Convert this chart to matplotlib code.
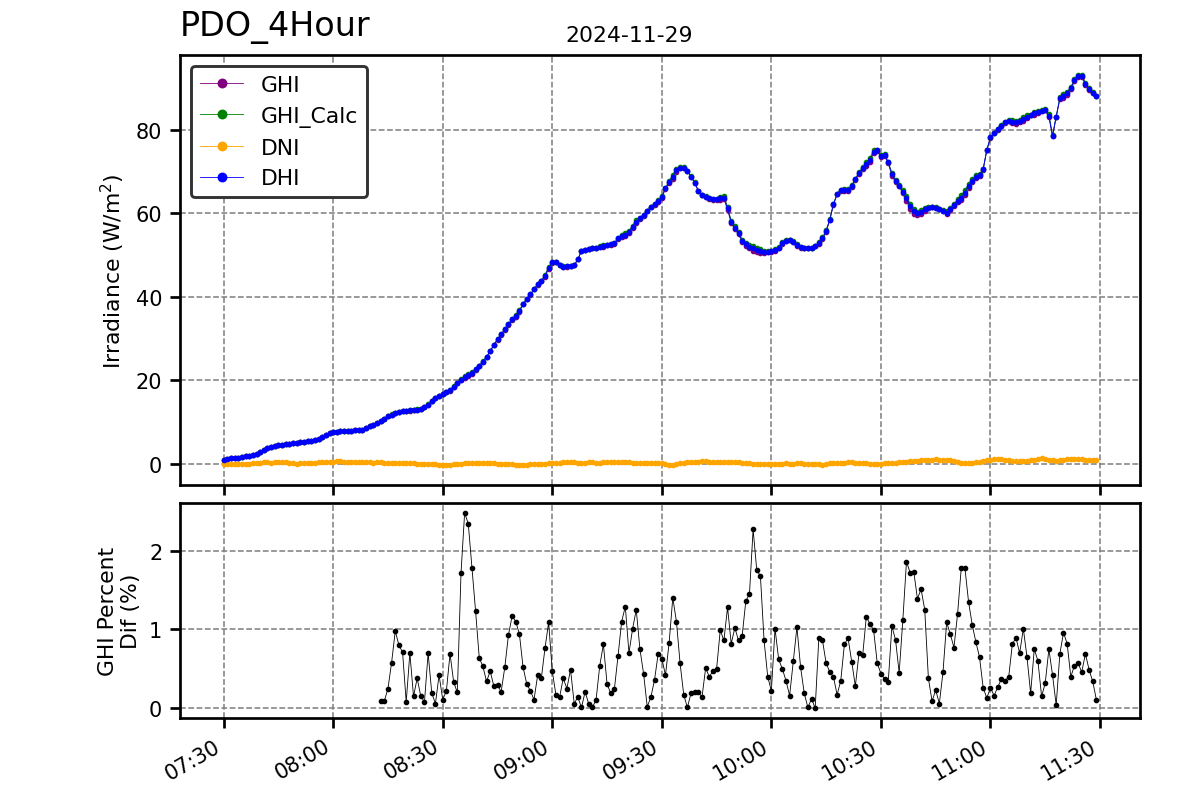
import numpy as np
import pandas as pd
import matplotlib
matplotlib.use("Agg")
import matplotlib.pyplot as plt
import matplotlib.dates as mdates

nan = np.nan
title_text = "PDO_4Hour"
date_text = "2024-11-29"
start_time = "2024-11-29 07:30"

# DHI (W/m2), one value per minute from 07:30
dhi = [
    1.0, 1.2, 1.3, 1.4, 1.5, 1.6, 1.8, 1.9, 2.1, 2.4,
    2.8, 3.3, 3.7, 4.0, 4.2, 4.4, 4.5, 4.7, 4.8, 5.0,
    5.1, 5.2, 5.3, 5.4, 5.5, 5.7, 6.0, 6.5, 7.0, 7.4,
    7.6, 7.7, 7.8, 7.8, 7.9, 7.9, 8.0, 8.1, 8.2, 8.6,
    9.0, 9.4, 9.8, 10.3, 10.8, 11.4, 11.8, 12.2, 12.4, 12.6,
    12.7, 12.8, 12.9, 13.0, 13.1, 13.5, 14.2, 15.0, 15.8, 16.3,
    16.7, 17.2, 17.6, 18.5, 19.4, 20.2, 20.7, 21.2, 21.8, 22.6,
    23.4, 24.5, 25.6, 27.0, 28.5, 29.8, 31.0, 32.2, 33.4, 34.6,
    35.4, 36.6, 38.3, 39.5, 40.6, 41.8, 43.0, 43.8, 45.0, 47.0,
    48.3, 48.4, 47.6, 47.2, 47.3, 47.4, 47.6, 49.0, 51.0, 51.2,
    51.4, 51.6, 51.8, 52.0, 52.2, 52.4, 52.6, 52.8, 54.0, 54.6,
    54.9, 55.6, 56.8, 58.0, 58.8, 59.6, 60.6, 61.6, 62.2, 63.0,
    64.0, 66.0, 67.5, 68.8, 70.3, 71.0, 71.0, 70.2, 68.8, 67.4,
    65.4, 64.4, 64.0, 63.6, 63.4, 63.4, 63.6, 63.8, 61.2, 58.0,
    56.6, 55.2, 53.5, 52.6, 52.0, 51.6, 51.3, 51.0, 50.8, 50.8,
    50.9, 51.2, 51.8, 52.9, 53.5, 53.6, 53.2, 52.4, 51.9, 51.7,
    51.7, 51.8, 52.1, 52.8, 54.0, 55.8, 58.5, 62.2, 64.6, 65.6,
    65.7, 65.6, 66.6, 68.2, 69.6, 70.8, 71.8, 72.8, 74.8, 75.1,
    73.8, 74.0, 72.2, 69.4, 67.8, 66.6, 65.2, 63.6, 61.7, 60.5,
    60.0, 60.4, 61.0, 61.4, 61.6, 61.4, 61.0, 60.6, 60.2, 61.0,
    62.0, 63.0, 63.8, 65.0, 66.6, 67.8, 68.8, 69.2, 70.6, 75.2,
    78.2, 79.3, 80.2, 81.0, 81.8, 82.2, 82.0, 81.8, 82.2, 82.6,
    83.2, 83.6, 84.0, 84.4, 84.6, 84.8, 83.4, 78.6, 83.2, 87.6,
    88.1, 88.8, 90.0, 91.9, 93.0, 93.0, 91.0, 89.8, 88.9, 88.1,
]

# DNI (W/m2)
dni = [
    -0.1, -0.1, 0.0, -0.1, 0.0, -0.1, 0.0, 0.0, 0.1, 0.2,
    0.3, 0.4, 0.4, 0.3, 0.4, 0.4, 0.4, 0.4, 0.3, 0.1,
    0.0, 0.1, 0.3, 0.3, 0.2, 0.3, 0.4, 0.4, 0.4, 0.5,
    0.5, 0.6, 0.7, 0.5, 0.4, 0.4, 0.4, 0.4, 0.4, 0.4,
    0.4, 0.3, 0.4, 0.4, 0.3, 0.2, 0.2, 0.2, 0.2, 0.1,
    0.1, 0.1, 0.1, 0.0, 0.0, 0.0, 0.0, 0.0, -0.1, -0.2,
    -0.2, -0.3, -0.2, -0.1, -0.1, 0.0, 0.1, 0.2, 0.3, 0.3,
    0.2, 0.3, 0.3, 0.2, 0.1, 0.0, 0.0, 0.0, 0.0, -0.1,
    -0.2, -0.2, -0.2, -0.2, -0.1, -0.1, -0.1, -0.1, 0.0, 0.1,
    0.2, 0.2, 0.3, 0.4, 0.5, 0.5, 0.4, 0.3, 0.2, 0.3,
    0.4, 0.4, 0.3, 0.3, 0.4, 0.5, 0.5, 0.5, 0.5, 0.5,
    0.4, 0.4, 0.3, 0.3, 0.2, 0.3, 0.2, 0.2, 0.3, 0.2,
    0.1, 0.0, -0.2, -0.4, -0.1, 0.2, 0.3, 0.4, 0.4, 0.4,
    0.5, 0.6, 0.6, 0.5, 0.4, 0.4, 0.4, 0.4, 0.4, 0.4,
    0.4, 0.4, 0.3, 0.2, 0.1, 0.0, 0.0, 0.0, 0.0, 0.0,
    0.0, 0.0, 0.0, 0.0, 0.1, 0.0, 0.0, 0.1, 0.1, 0.0,
    0.0, 0.0, 0.0, -0.1, -0.2, 0.0, 0.1, 0.2, 0.2, 0.3,
    0.3, 0.4, 0.4, 0.3, 0.2, 0.2, 0.1, 0.0, 0.0, -0.1,
    0.0, 0.1, 0.2, 0.2, 0.3, 0.4, 0.5, 0.5, 0.6, 0.6,
    0.7, 0.8, 0.9, 0.9, 1.0, 1.1, 0.9, 0.8, 0.8, 0.8,
    0.6, 0.4, 0.2, 0.2, 0.2, 0.3, 0.4, 0.5, 0.7, 0.9,
    1.0, 1.1, 1.1, 1.1, 1.0, 0.8, 0.7, 0.7, 0.7, 0.7,
    0.7, 0.8, 0.9, 1.1, 1.3, 1.2, 1.0, 0.9, 0.6, 0.9,
    1.0, 1.1, 1.1, 1.1, 1.2, 1.1, 1.0, 1.0, 1.0, 0.9,
]

# GHI percent difference (%)
pct_dif = [nan] * 43 + [
    0.09, 0.09, 0.25, 0.58, 0.98, 0.80, 0.71,
    0.08, 0.70, 0.15, 0.38, 0.15, 0.08, 0.70, 0.19, 0.06, 0.42,
    0.11, 0.22, 0.69, 0.33, 0.20, 1.71, 2.48, 2.34, 1.78, 1.23,
    0.64, 0.53, 0.34, 0.47, 0.28, 0.29, 0.21, 0.52, 0.93, 1.17,
    1.10, 0.94, 0.52, 0.31, 0.22, 0.11, 0.42, 0.38, 0.76, 1.09,
    0.47, 0.17, 0.14, 0.38, 0.25, 0.49, 0.06, 0.14, 0.01, 0.21,
    0.05, 0.01, 0.11, 0.54, 0.81, 0.31, 0.19, 0.24, 0.66, 1.10,
    1.29, 0.70, 1.01, 1.25, 0.75, 0.44, 0.02, 0.14, 0.36, 0.69,
    0.63, 0.42, 0.83, 1.40, 1.10, 0.57, 0.17, 0.01, 0.19, 0.20,
    0.21, 0.14, 0.51, 0.40, 0.47, 0.50, 0.99, 0.86, 1.28, 0.82,
    1.02, 0.86, 0.92, 1.36, 1.45, 2.27, 1.75, 1.68, 0.86, 0.40,
    0.22, 1.01, 0.62, 0.50, 0.35, 0.16, 0.60, 1.03, 0.52, 0.19,
    0.01, 0.12, 0.00, 0.89, 0.86, 0.57, 0.46, 0.40, 0.17, 0.35,
    0.81, 0.89, 0.59, 0.28, 0.70, 0.67, 1.16, 1.07, 0.99, 0.57,
    0.44, 0.37, 0.33, 1.04, 0.87, 0.45, 1.12, 1.86, 1.72, 1.73,
    1.39, 1.51, 1.25, 0.38, 0.09, 0.23, 0.06, 0.46, 1.09, 0.94,
    0.77, 1.20, 1.78, 1.78, 1.35, 1.06, 0.84, 0.65, 0.26, 0.13,
    0.26, 0.16, 0.27, 0.37, 0.35, 0.40, 0.82, 0.89, 0.70, 1.01,
    0.65, 0.19, 0.75, 0.60, 0.15, 0.32, 0.75, 0.42, 0.04, 0.69,
    0.96, 0.82, 0.40, 0.54, 0.57, 0.46, 0.69, 0.49, 0.34, 0.11,
]

dhi_a = np.array(dhi, dtype=float)
dni_a = np.array(dni, dtype=float)
pct_a = np.array(pct_dif, dtype=float)
n = min(len(dhi_a), len(dni_a), len(pct_a))
times = pd.date_range(start_time, periods=n, freq="1min")
dhi_a, dni_a, pct_a = dhi_a[:n], dni_a[:n], pct_a[:n]
half = np.nan_to_num(pct_a) / 200.0
ghi_a = dhi_a * (1 - half)
ghi_calc_a = dhi_a * (1 + half)

fig = plt.figure(figsize=(8, 5.333), dpi=150)
ax1 = fig.add_axes([0.15, 0.3925, 0.80, 0.5375])
ax2 = fig.add_axes([0.15, 0.10125, 0.80, 0.26875], sharex=ax1)

lw = 0.4
ms = 1.7
ax1.plot(times, ghi_a, color="purple", marker="o", lw=lw, ms=ms, label="GHI")
ax1.plot(times, ghi_calc_a, color="green", marker="o", lw=lw, ms=ms, label="GHI_Calc")
ax1.plot(times, dni_a, color="orange", marker="o", lw=lw, ms=ms, label="DNI")
ax1.plot(times, dhi_a, color="blue", marker="o", lw=lw, ms=ms, label="DHI")

ax2.plot(times, pct_a, color="black", marker="o", lw=lw, ms=ms)

for ax in (ax1, ax2):
    ax.grid(True, linestyle="--", color="gray", linewidth=0.75)
    for s in ax.spines.values():
        s.set_linewidth(1.3)
    ax.tick_params(width=1.3, length=5, labelsize=10)

ax1.set_yticks([0, 20, 40, 60, 80])
ax2.set_yticks([0, 1, 2])
ax1.set_ylabel("Irradiance (W/m$^2$)", fontsize=10.5)
ax2.set_ylabel("GHI Percent\nDif (%)", fontsize=10.5)

ax2.xaxis.set_major_locator(mdates.MinuteLocator(byminute=[0, 30]))
ax2.xaxis.set_major_formatter(mdates.DateFormatter("%H:%M"))
plt.setp(ax1.get_xticklabels(), visible=False)
for lab in ax2.get_xticklabels():
    lab.set_rotation(30)
    lab.set_ha("right")

leg = ax1.legend(loc="upper left", markerscale=2.2, fontsize=10.5,
                 frameon=True, fancybox=True, framealpha=1.0)
leg.get_frame().set_edgecolor("#333333")
leg.get_frame().set_linewidth(1.4)

fig.text(0.15, 0.945, title_text, fontsize=16, ha="left", va="bottom")
fig.text(0.524, 0.943, date_text, fontsize=10.5, ha="center", va="bottom")

fig.savefig("out.png", dpi=150)
